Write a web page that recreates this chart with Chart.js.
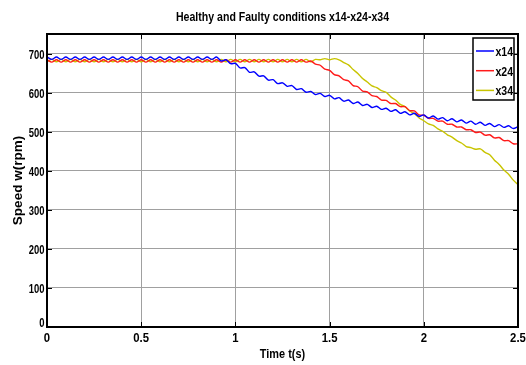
<!DOCTYPE html>
<html>
<head>
<meta charset="utf-8">
<script src="https://cdn.jsdelivr.net/npm/chart.js@4"></script>
<style>
  html, body { margin: 0; padding: 0; background: #fff; }
  #wrap { width: 526px; height: 365px; }
</style>
</head>
<body>
<div id="wrap"><canvas id="chart"></canvas></div>
<script>
// speed samples every 0.025 s
const x14 = [
  691,685,691,685,691,685,691,685,691,685,
  691,685,691,685,691,685,691,685,691,685,
  691,685,691,685,691,685,691,685,691,685,
  691,685,691,685,691,685,691,681,684,674,
  675,663,664,652,653,642,643,632,633,623,
  625,616,618,608,610,601,603,595,598,590,
  593,584,587,578,581,572,576,567,570,562,
  565,557,560,552,556,547,551,543,547,539,
  543,535,540,532,536,528,533,525,530,522,
  527,519,524,516,521,513,518,511,515,508,513
];
const x24 = [
  684,678,684,678,684,678,684,678,684,678,
  684,678,684,678,684,678,684,678,684,678,
  684,678,684,678,684,678,684,678,684,678,
  684,678,684,678,684,678,684,678,684,678,
  684,678,684,678,684,678,684,678,684,678,
  684,678,684,678,684,678,681,673,670,660,
  657,646,643,633,630,618,615,604,602,592,
  590,581,580,572,572,564,564,554,553,543,
  542,534,534,527,527,519,519,512,512,505,
  505,498,499,491,492,484,485,477,477,469,469
];
const x34 = [
  679,685,679,685,679,685,679,685,679,685,
  679,685,679,685,679,685,679,685,679,685,
  679,685,679,685,679,685,679,685,679,685,
  679,685,679,685,679,685,679,685,679,685,
  679,685,679,685,679,685,679,685,679,685,
  679,685,679,685,679,685,679,685,684,687,
  684,687,684,677,671,659,649,636,627,617,
  613,605,601,589,581,570,564,553,546,535,
  528,520,516,507,501,492,486,477,471,462,
  459,455,456,447,441,427,416,402,391,376,364
];
const seriesNames = ['x14', 'x24', 'x34'];
const seriesColors = ['#0000ff', '#ff1a1a', '#c8c400'];
const xTicks = [0, 0.5, 1, 1.5, 2, 2.5];
const yTicks = [0, 100, 200, 300, 400, 500, 600, 700];
const dt = 0.025;
const times = x14.map((_, i) => +(i * dt).toFixed(3));

const FONT = "'Liberation Sans', Arial, sans-serif";

const toPts = arr => arr.map((v, i) => ({ x: times[i], y: v }));

// narrow bold text, the figure uses a condensed face
function narrowText(ctx, text, x, y, size, sx, align) {
  ctx.save();
  ctx.translate(x, y);
  ctx.scale(sx, 1);
  ctx.font = 'bold ' + size + 'px ' + FONT;
  ctx.textAlign = align;
  ctx.fillText(text, 0, 0);
  ctx.restore();
}

// title, labels, black box, inward ticks and legend box like the matlab figure
const matlabFrame = {
  id: 'matlabFrame',
  afterDraw(chart) {
    const { ctx, chartArea: a, scales } = chart;
    ctx.save();
    ctx.fillStyle = '#000';
    ctx.textBaseline = 'alphabetic';
    narrowText(ctx, 'Healthy and Faulty conditions x14-x24-x34', (a.left + a.right) / 2, 21, 12, 0.88, 'center');
    narrowText(ctx, 'Time t(s)', (a.left + a.right) / 2, 358, 13, 0.84, 'center');

    xTicks.forEach(v => {
      narrowText(ctx, String(v), scales.x.getPixelForValue(v), 342, 13.5, 0.84, 'center');
    });
    yTicks.forEach(v => {
      const py = scales.y.getPixelForValue(v) + (v === 0 ? 0 : 5);
      narrowText(ctx, String(v), 44.5, py, 13.5, 0.7, 'right');
    });

    ctx.save();
    ctx.translate(22, (a.top + a.bottom) / 2);
    ctx.rotate(-Math.PI / 2);
    ctx.font = 'bold 13.5px ' + FONT;
    ctx.textAlign = 'center';
    ctx.fillText('Speed w(rpm)', 0, 0);
    ctx.restore();

    ctx.strokeStyle = '#000';
    ctx.lineWidth = 1;
    ctx.beginPath();
    xTicks.forEach(v => {
      const px = Math.round(scales.x.getPixelForValue(v)) + 0.5;
      ctx.moveTo(px, a.bottom); ctx.lineTo(px, a.bottom - 5);
      ctx.moveTo(px, a.top); ctx.lineTo(px, a.top + 5);
    });
    yTicks.forEach(v => {
      const py = Math.round(scales.y.getPixelForValue(v)) + 0.5;
      ctx.moveTo(a.left, py); ctx.lineTo(a.left + 5, py);
      ctx.moveTo(a.right, py); ctx.lineTo(a.right - 5, py);
    });
    ctx.stroke();

    ctx.lineWidth = 2;
    ctx.strokeRect(a.left, a.top, a.right - a.left, a.bottom - a.top);

    // legend
    const lx = 473, ly = 38, lw = 41, lh = 62;
    ctx.fillStyle = '#fff';
    ctx.fillRect(lx, ly, lw, lh);
    ctx.lineWidth = 1.5;
    ctx.strokeRect(lx, ly, lw, lh);
    chart.data.datasets.forEach((ds, i) => {
      const y = 51 + i * 19.7;
      ctx.strokeStyle = ds.borderColor;
      ctx.lineWidth = 1.5;
      ctx.beginPath();
      ctx.moveTo(476, y); ctx.lineTo(494, y);
      ctx.stroke();
      ctx.fillStyle = '#000';
      narrowText(ctx, ds.label, 495.5, y + 5, 13.5, 0.78, 'left');
    });
    ctx.restore();
  }
};

new Chart(document.getElementById('chart'), {
  type: 'line',
  data: {
    datasets: seriesNames.map((name, i) => ({
      label: name,
      data: toPts([x14, x24, x34][i]),
      borderColor: seriesColors[i],
      borderWidth: 1.4,
      pointRadius: 0,
      tension: 0.3,
      fill: false
    }))
  },
  options: {
    responsive: true,
    maintainAspectRatio: false,
    animation: false,
    layout: { padding: { top: 34, right: 8, left: 0, bottom: 0 } },
    plugins: {
      legend: { display: false },
      title: { display: false },
      tooltip: { enabled: false }
    },
    scales: {
      x: {
        type: 'linear',
        min: 0,
        max: 2.5,
        afterBuildTicks: s => { s.ticks = xTicks.map(v => ({ value: v })); },
        afterFit: s => { s.height = 38; },
        grid: { color: '#a0a0a0', lineWidth: 1, drawTicks: false },
        border: { display: false },
        ticks: { display: false }
      },
      y: {
        min: 0,
        max: 750,
        afterBuildTicks: s => { s.ticks = yTicks.map(v => ({ value: v })); },
        afterFit: s => { s.width = 47; },
        grid: { color: '#a0a0a0', lineWidth: 1, drawTicks: false },
        border: { display: false },
        ticks: { display: false }
      }
    }
  },
  plugins: [matlabFrame]
});
</script>
</body>
</html>
